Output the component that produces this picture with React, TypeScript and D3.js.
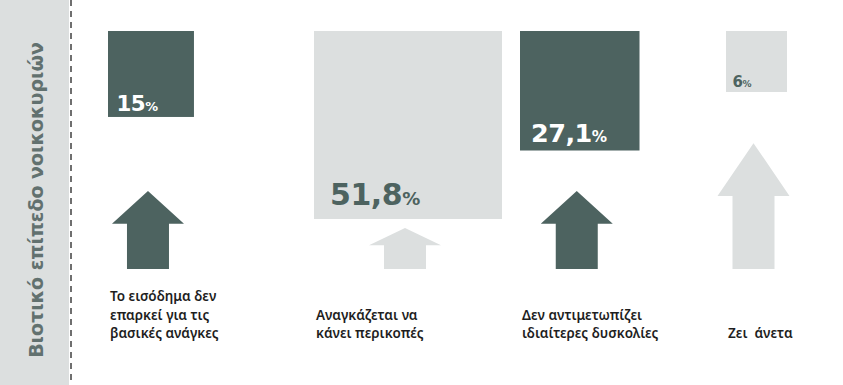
import React from 'react';
import * as d3 from 'd3';

// categories (label lines), shares in %, and relative arrow lengths
const categories = ['insufficient', 'cuts', 'noTrouble', 'comfortable'];
const labels = [
  ['Το εισόδημα δεν', 'επαρκεί για τις', 'βασικές ανάγκες'],
  ['Αναγκάζεται να', 'κάνει περικοπές'],
  ['Δεν αντιμετωπίζει', 'ιδιαίτερες δυσκολίες'],
  ['Ζει  άνετα'],
];
const values = [15, 51.8, 27.1, 6];
const valueText = ['15', '51,8', '27,1', '6'];
const arrowWeight = [1.9, 1, 1.9, 3.07];
const dark = [true, false, true, false];
const title = 'Βιοτικό επίπεδο νοικοκυριών';

const W = 843;
const H = 385;
const DARK = '#4d6360';
const LIGHT = '#dcdfdf';

const App: React.FC = () => {
  const x = d3.scalePoint<string>().domain(categories).range([108, 726]);
  const side = d3.scaleLinear().domain([6, 51.8]).range([61, 188]);
  const fontSize = d3.scaleLog().domain([6, 51.8]).range([15, 30]);
  const arrowLen = d3.scaleLinear().domain([0, 1]).range([0, 41]);

  const top = 31;
  const arrowBase = 269;
  const labelBase = 338;
  const lineH = 18.5;

  const arrowPath = (cx: number, len: number) => {
    const head = len * 0.42;
    const hw = 36;
    const sw = 21;
    const p = d3.path();
    p.moveTo(cx, arrowBase - len);
    p.lineTo(cx + hw, arrowBase - len + head);
    p.lineTo(cx + sw, arrowBase - len + head);
    p.lineTo(cx + sw, arrowBase);
    p.lineTo(cx - sw, arrowBase);
    p.lineTo(cx - sw, arrowBase - len + head);
    p.lineTo(cx - hw, arrowBase - len + head);
    p.closePath();
    return p.toString();
  };

  return (
    <svg
      width={W}
      height={H}
      style={{ position: 'fixed', left: 0, top: 0, background: '#fff' }}
    >
      <rect x={0} y={0} width={69} height={H} fill={LIGHT} />
      <line x1={71} x2={71} y1={0} y2={H} stroke="#333" strokeWidth={1.4} strokeDasharray="6 5" />
      <text
        transform="translate(43,200) rotate(-90)"
        textAnchor="middle"
        fontFamily="'DejaVu Sans', sans-serif"
        fontWeight="bold"
        fontSize={19}
        fill="#62716f"
      >
        {title}
      </text>

      {categories.map((c, i) => {
        const s = side(values[i]);
        const x0 = x(c) as number;
        const cx = x0 + s / 2 - 3;
        const fs = fontSize(values[i]);
        const pad = s * 0.075;
        const col = dark[i] ? DARK : LIGHT;
        const txtCol = dark[i] ? '#ffffff' : DARK;
        const lines = labels[i];
        return (
          <g key={c}>
            <rect x={x0} y={top} width={s} height={s} fill={col} />
            <text
              x={x0 + pad + 2}
              y={top + s - pad}
              fontFamily="'DejaVu Sans', sans-serif"
              fontWeight="bold"
              fontSize={fs}
              fill={txtCol}
              letterSpacing={-0.5}
            >
              {valueText[i]}
              <tspan fontSize={fs * 0.6}>%</tspan>
            </text>
            <path d={arrowPath(cx, arrowLen(arrowWeight[i]))} fill={col} />
            {lines.map((ln, j) => (
              <text
                key={j}
                x={x0 + 2}
                y={labelBase - (lines.length - 1 - j) * lineH}
                fontFamily="'Noto Sans', sans-serif"
                fontWeight={600}
                fontSize={13.5}
                fill="#1e1e1e"
                style={{ whiteSpace: 'pre' }}
              >
                {ln}
              </text>
            ))}
          </g>
        );
      })}
    </svg>
  );
};

export default App;
